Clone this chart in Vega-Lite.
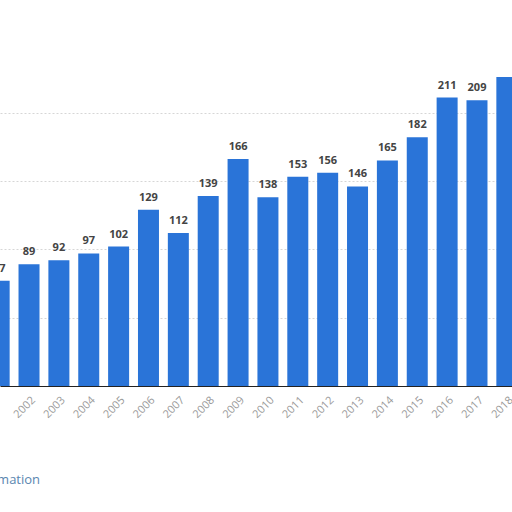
{
  "$schema": "https://vega.github.io/schema/vega-lite/v6.json",
  "autosize": "none",
  "padding": {"left": 0, "top": 0, "right": 0, "bottom": 126},
  "width": 512,
  "height": 386,
  "background": "white",
  "data": {
    "values": [
      {"year": 2001, "value": 77},
      {"year": 2002, "value": 89},
      {"year": 2003, "value": 92},
      {"year": 2004, "value": 97},
      {"year": 2005, "value": 102},
      {"year": 2006, "value": 129},
      {"year": 2007, "value": 112},
      {"year": 2008, "value": 139},
      {"year": 2009, "value": 166},
      {"year": 2010, "value": 138},
      {"year": 2011, "value": 153},
      {"year": 2012, "value": 156},
      {"year": 2013, "value": 146},
      {"year": 2014, "value": 165},
      {"year": 2015, "value": 182},
      {"year": 2016, "value": 211},
      {"year": 2017, "value": 209},
      {"year": 2018, "value": 226}
    ]
  },
  "title": {
    "text": "Additional Information",
    "orient": "bottom",
    "anchor": "start",
    "dx": -97,
    "offset": 54,
    "font": "Open Sans",
    "fontSize": 13,
    "fontWeight": "normal",
    "color": "#5a86b0"
  },
  "encoding": {
    "x": {
      "field": "year",
      "type": "quantitative",
      "scale": {"domain": [2001.1957, 2018.005], "nice": false, "zero": false},
      "axis": {
        "values": [2001, 2002, 2003, 2004, 2005, 2006, 2007, 2008, 2009, 2010, 2011, 2012, 2013, 2014, 2015, 2016, 2017, 2018],
        "format": "d",
        "labelAngle": -45,
        "labelFont": "Open Sans",
        "labelFontSize": 11,
        "labelColor": "#9a9a9a",
        "labelPadding": 8,
        "ticks": false,
        "grid": false,
        "domainColor": "#222222",
        "domainWidth": 1.2,
        "labelOverlap": false,
        "labelBound": false,
        "title": null
      }
    },
    "y": {
      "field": "value",
      "type": "quantitative",
      "scale": {"domain": [0, 282.4], "nice": false},
      "axis": {
        "values": [50, 100, 150, 200],
        "grid": true,
        "gridColor": "#d6d6d6",
        "gridDash": [2, 2],
        "domain": false,
        "ticks": false,
        "labels": false,
        "title": null
      }
    }
  },
  "layer": [
    {
      "mark": {"type": "bar", "width": 21, "color": "#2a74d8", "clip": true}
    },
    {
      "transform": [{"filter": "datum.year < 2018"}],
      "mark": {
        "type": "text",
        "baseline": "bottom",
        "dy": -7,
        "font": "Open Sans",
        "fontSize": 11,
        "fontWeight": "bold",
        "color": "#444444",
        "clip": true
      },
      "encoding": {"text": {"field": "value", "type": "quantitative"}}
    }
  ],
  "config": {"view": {"stroke": null}}
}
